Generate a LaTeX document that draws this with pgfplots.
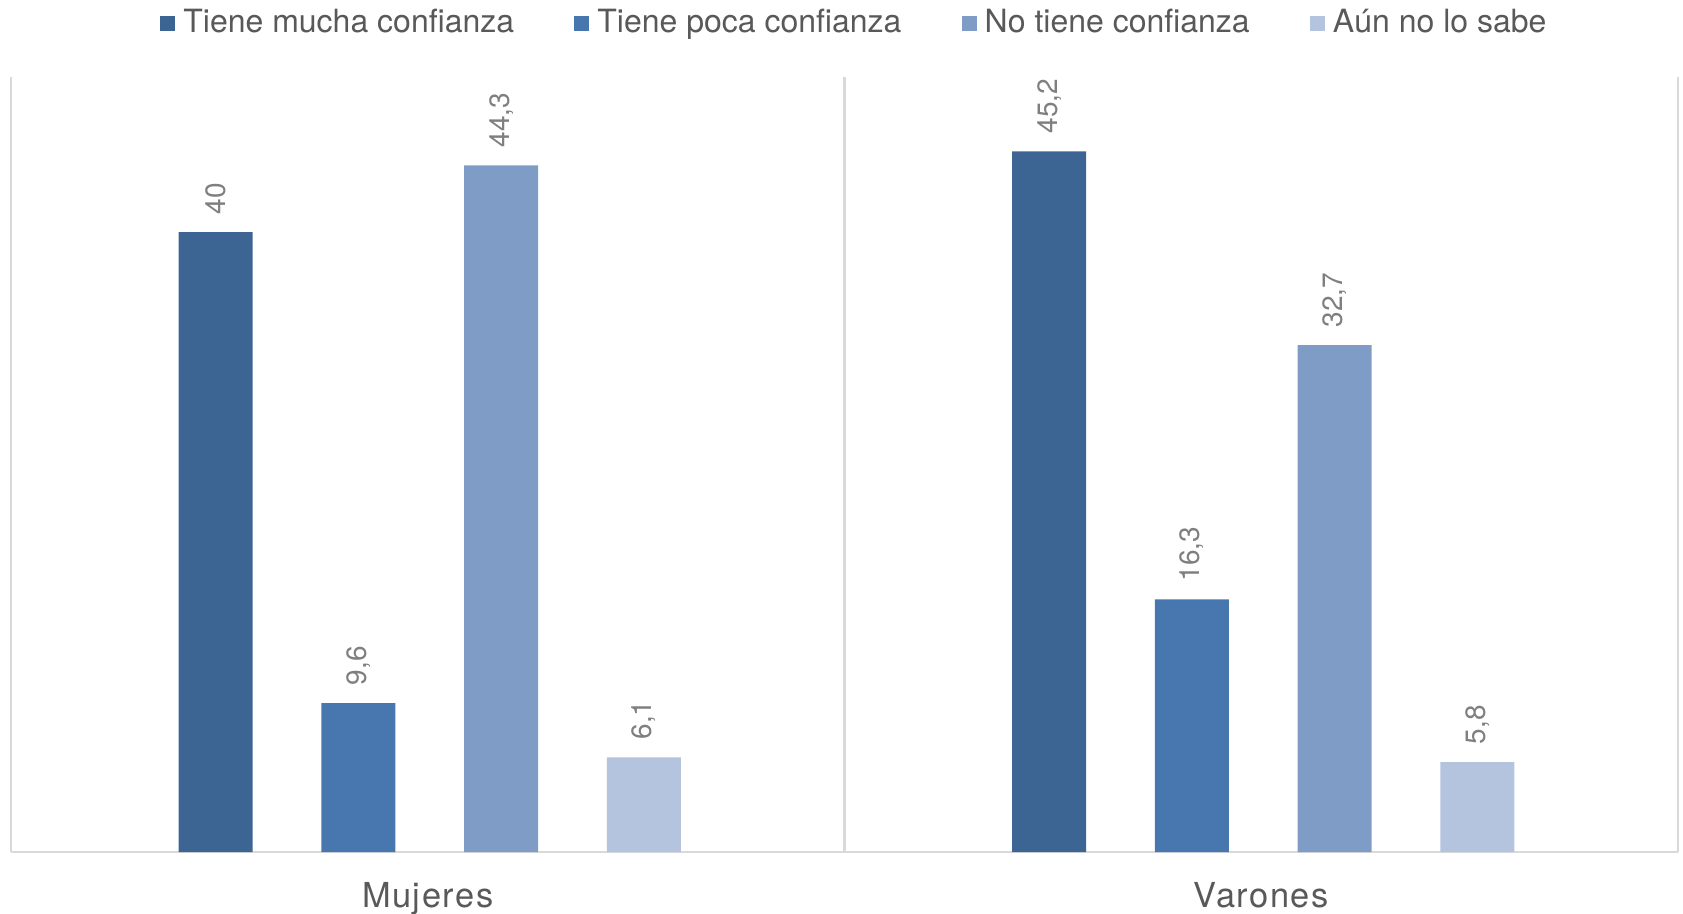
\documentclass[border=0pt]{standalone}
\usepackage{pgfplots}
\pgfplotsset{compat=1.18}
\usepackage{fontspec}
\setmainfont{TeX Gyre Heros}

\definecolor{bar1}{HTML}{3D6594}
\definecolor{bar2}{HTML}{4877AF}
\definecolor{bar3}{HTML}{7F9CC7}
\definecolor{bar4}{HTML}{B4C3DE}
\definecolor{gridgray}{HTML}{D9D9D9}
\definecolor{labgray}{HTML}{7F7F7F}
\definecolor{txtgray}{HTML}{595959}

\begin{document}
\begin{tikzpicture}
% page = 1683 x 913 px, 1 px = 0.25pt
\path[use as bounding box] (-2.75pt,-15.25pt) rectangle (418pt,213pt);
\begin{axis}[
    at={(0,0)}, anchor=south west,
    scale only axis,
    width=416.75pt, height=193.75pt,
    xmin=-0.5, xmax=1.5,
    ymin=0, ymax=50,
    clip=false,
    ybar, bar width=0.0888,
    hide y axis,
    axis x line*=bottom,
    x axis line style={draw=gridgray, line width=0.5pt},
    xtick={0,1},
    xticklabels={Mujeres,Varones},
    major tick length=0pt,
    xticklabel style={anchor=base, yshift=-13.75pt, text=txtgray,
        font=\fontsize{8.6}{10}\selectfont\addfontfeature{LetterSpace=4.5}},
    extra x ticks={-0.5,0.5,1.5},
    extra x tick labels={},
    extra x tick style={grid=major, major grid style={draw=gridgray, line width=0.5pt}},
    nodes near coords,
    every node near coord/.append style={rotate=90, anchor=west, inner sep=4.3pt,
        text=labgray, font=\fontsize{7}{8}\selectfont},
    /pgf/number format/use comma,
    /pgf/number format/fixed,
    /pgf/number format/precision=1,
    /pgf/number format/assume math mode=true,
    legend columns=4,
    legend style={at={(0.5,1)}, anchor=center, xshift=3.2pt, yshift=13.35pt, draw=none,
        font=\fontsize{8}{10}\selectfont, text=txtgray,
        /tikz/every even column/.append style={column sep=13pt}},
    legend image code/.code={\fill[#1] (0pt,-1.9pt) rectangle (3.8pt,1.9pt);},
]
\addplot[fill=bar1, draw=none, bar shift=-0.2544] coordinates {(0,40) (1,45.2)};
\addplot[fill=bar2, draw=none, bar shift=-0.0831] coordinates {(0,9.6) (1,16.3)};
\addplot[fill=bar3, draw=none, bar shift=0.0881] coordinates {(0,44.3) (1,32.7)};
\addplot[fill=bar4, draw=none, bar shift=0.2594] coordinates {(0,6.1) (1,5.8)};
\legend{Tiene mucha confianza, Tiene poca confianza, No tiene confianza, Aún no lo sabe}
\end{axis}
\end{tikzpicture}
\end{document}
